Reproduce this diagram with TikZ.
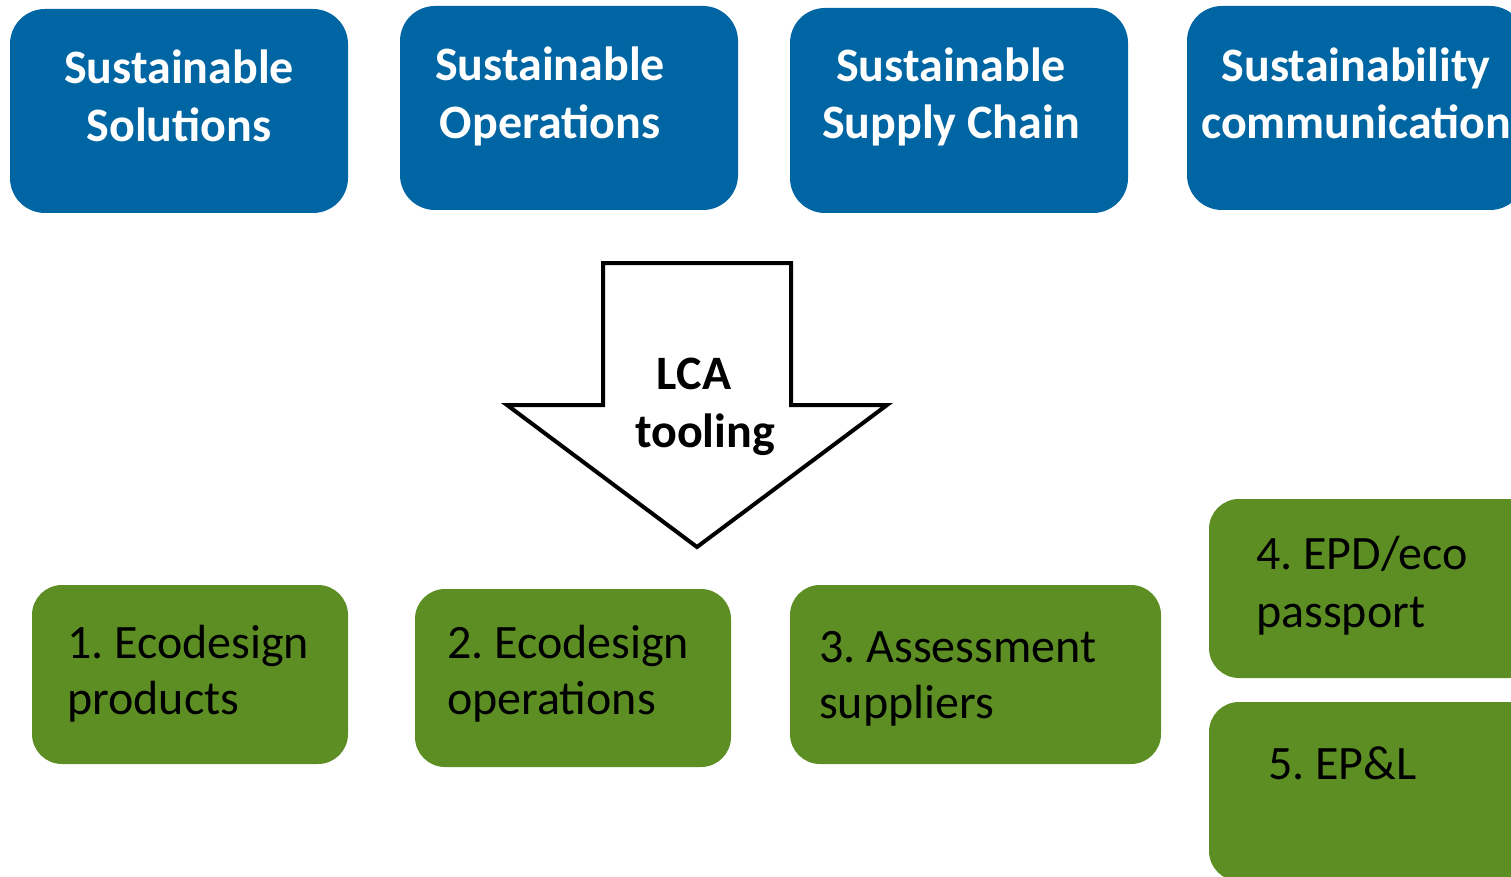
\documentclass[tikz,border=0pt]{standalone}
\usepackage{fontspec}
\setmainfont{Carlito}
\frenchspacing
\definecolor{boxblue}{RGB}{0,101,163}
\definecolor{boxgreen}{RGB}{92,142,35}
\tikzset{
  bluebox/.style={draw=none, fill=boxblue, rounded corners=35pt, inner sep=0pt},
  greenbox/.style={draw=none, fill=boxgreen, rounded corners=30pt, inner sep=0pt},
  bluetxt/.style={text=white, inner sep=0pt, anchor=base, font=\fontsize{48}{56}\selectfont\bfseries},
  greentxt/.style={text=black, inner sep=0pt, anchor=base west, font=\fontsize{48}{56}\selectfont\frenchspacing},
  lcatxt/.style={text=black, inner sep=0pt, anchor=base, font=\fontsize{48}{56}\selectfont\bfseries},
  arrowline/.style={draw=black, fill=white, line width=4pt, miter limit=10}
}
\begin{document}
\begin{tikzpicture}[x=1pt, y=-1pt]
\clip (0,0) rectangle (1511,877);
% blue boxes
\node[bluebox, minimum width=338pt, minimum height=204pt] (b1) at (179,111) {};
\node[bluebox, minimum width=338pt, minimum height=204pt] (b2) at (569,108) {};
\node[bluebox, minimum width=338pt, minimum height=205pt] (b3) at (959,110.5) {};
\node[bluebox, minimum width=338pt, minimum height=204pt] (b4) at (1356,108) {};
\node[bluetxt] (b1a) at (179,84) {Sustainable};
\node[bluetxt] (b1b) at (179,142) {Solutions};
\node[bluetxt] (b2a) at (550,81) {Sustainable};
\node[bluetxt] (b2b) at (550,139) {Operations};
\node[bluetxt] (b3a) at (951,82) {Sustainable};
\node[bluetxt] (b3b) at (951,139) {Supply Chain};
\node[bluetxt] (b4a) at (1356,82) {Sustainability};
\node[bluetxt] (b4b) at (1356,139) {communication};
% arrow
\coordinate (a1) at (603,263);
\coordinate (a2) at (791,263);
\coordinate (a3) at (791,405);
\coordinate (a4) at (887,405);
\coordinate (a5) at (697,547);
\coordinate (a6) at (507,405);
\coordinate (a7) at (603,405);
\draw[arrowline] (a1) -- (a2) -- (a3) -- (a4) -- (a5) -- (a6) -- (a7) -- cycle;
\node[lcatxt] (lca1) at (694,389) {LCA};
\node[lcatxt] (lca2) at (705,447) {tooling};
% green boxes
\node[greenbox, minimum width=316pt, minimum height=179pt] (g1) at (190,674.5) {};
\node[greenbox, minimum width=316pt, minimum height=178pt] (g2) at (573,678) {};
\node[greenbox, minimum width=371pt, minimum height=179pt] (g3) at (975.5,674.5) {};
\node[greenbox, minimum width=330pt, minimum height=179pt] (g4) at (1374,588.5) {};
\node[greenbox, minimum width=330pt, minimum height=179pt] (g5) at (1374,791.5) {};
\node[greentxt] (g1a) at (67,658) {1. Ecodesign};
\node[greentxt] (g1b) at (67,714) {products};
\node[greentxt] (g2a) at (447,658) {2. Ecodesign};
\node[greentxt] (g2b) at (447,714) {operations};
\node[greentxt] (g3a) at (819,662) {3. Assessment};
\node[greentxt] (g3b) at (819,718) {suppliers};
\node[greentxt] (g4a) at (1256,569) {4. EPD/eco};
\node[greentxt] (g4b) at (1256,627) {passport};
\node[greentxt] (g5a) at (1268,779) {5. EP\&L};
\end{tikzpicture}
\end{document}
